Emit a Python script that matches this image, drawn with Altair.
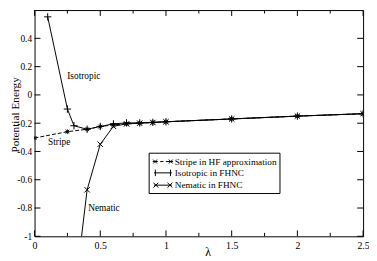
import altair as alt
import pandas as pd

# ---------------- data ----------------
lam_stripe = [0.0, 0.25, 0.4, 0.5, 0.6, 0.7, 0.8, 0.9, 1.0, 1.5, 2.0, 2.5]
E_stripe = [-0.305, -0.26, -0.243, -0.224, -0.212, -0.205, -0.2, -0.195, -0.19, -0.17, -0.15, -0.133]

lam_iso = [0.1, 0.25, 0.3, 0.4, 0.5, 0.6, 0.7, 0.8, 0.9, 1.0, 1.5, 2.0, 2.5]
E_iso = [0.552, -0.10, -0.218, -0.243, -0.223, -0.205, -0.198, -0.198, -0.194, -0.19, -0.17, -0.15, -0.133]

lam_nem = [0.3, 0.4, 0.5, 0.6, 0.7, 0.8, 0.9, 1.0, 1.5, 2.0, 2.5]
E_nem = [-1.45, -0.671, -0.349, -0.222, -0.205, -0.2, -0.195, -0.19, -0.17, -0.15, -0.133]

ann_text = ["Isotropic", "Stripe", "Nematic"]
ann_lam = [0.375, 0.187, 0.528]
ann_E = [0.135, -0.33, -0.80]

legend_labels = ["Stripe in HF approximation", "Isotropic in FHNC", "Nematic in FHNC"]

x_major = [0, 0.5, 1, 1.5, 2, 2.5]
x_minor = [0.25, 0.75, 1.25, 1.75, 2.25]
y_major = [-1, -0.8, -0.6, -0.4, -0.2, 0, 0.2, 0.4]

# ---------------- style ----------------
FONT = "Liberation Serif"
W, H = 334, 230
PL = 27  # left padding -> plot left edge at 35px on page

xs = alt.Scale(domain=[0, 2.5], nice=False, zero=False)
ys = alt.Scale(domain=[-1, 0.6], nice=False, zero=False)

STAR = "M-1,-1L1,1M-1,1L1,-1M-1.2,0H1.2M0,-1.2V1.2"
PLUS = "M-1,0H1M0,-1V1"
CROSS = "M-1,-1L1,1M-1,1L1,-1"


def fmt(v):
    return str(round(v, 3))


def star_at(cx, r):
    return (f"M{fmt(cx-r)},{fmt(-r)}L{fmt(cx+r)},{fmt(r)}"
            f"M{fmt(cx-r)},{fmt(r)}L{fmt(cx+r)},{fmt(-r)}"
            f"M{fmt(cx-r*1.2)},0H{fmt(cx+r*1.2)}")


def cross_at(cx, r):
    return (f"M{fmt(cx-r)},{fmt(-r)}L{fmt(cx+r)},{fmt(r)}"
            f"M{fmt(cx-r)},{fmt(r)}L{fmt(cx+r)},{fmt(-r)}")


# legend symbol: size 121 -> unit = 5.5px; paths span +-1.64 units (~18px)
leg_stripe = (star_at(-1.45, 0.36) + star_at(1.45, 0.36)
              + "M-1.45,0H-0.95M-0.5,0H0.1M0.55,0H1.45")
leg_iso = "M-1.64,0H1.64M-1.4,-0.6V0.6M1.4,-0.6V0.6"
leg_nem = "M-1.64,0H1.64" + cross_at(-1.3, 0.45) + cross_at(1.3, 0.45)
legend_paths = [leg_stripe, leg_iso, leg_nem]

df_s = pd.DataFrame({"lam": lam_stripe, "E": E_stripe})
df_i = pd.DataFrame({"lam": lam_iso, "E": E_iso})
df_n = pd.DataFrame({"lam": lam_nem, "E": E_nem})
df_ann = pd.DataFrame({"text": ann_text, "lam": ann_lam, "E": ann_E})
df_leg = pd.DataFrame({"name": legend_labels})
df_xmaj = pd.DataFrame({"lam": x_major})
df_xmin = pd.DataFrame({"lam": x_minor})
df_ymaj = pd.DataFrame({"E": y_major})

xaxis = alt.Axis(values=x_major, labelExpr="format(datum.value, '~g')",
                 ticks=False, tickSize=0, domain=False, grid=False,
                 labelFont=FONT, labelFontSize=10, labelColor="black",
                 labelBaseline="alphabetic", labelPadding=12, labelFlush=False,
                 title="λ", titleFont=FONT, titleFontSize=12, titleFontWeight="normal",
                 titleColor="black", titleX=176, titleY=20, titleBaseline="alphabetic",
                 titleAlign="center")
yaxis = alt.Axis(values=y_major,
                 labelExpr="(datum.value < 0 ? '-' : '') + format(abs(datum.value), '~g')",
                 ticks=False, tickSize=0, domain=False, grid=False,
                 labelFont=FONT, labelFontSize=9.5, labelColor="black",
                 labelPadding=3, labelFlush=False,
                 title="Potential Energy", titleFont=FONT, titleFontSize=11.5,
                 titleFontWeight="normal", titleColor="black",
                 titleAngle=270, titleBaseline="bottom", titleAlign="center",
                 titleX=-14, titleY=106)

X = alt.X("lam:Q", scale=xs, axis=xaxis)
Y = alt.Y("E:Q", scale=ys, axis=yaxis)

stripe_line = alt.Chart(df_s).mark_line(color="black", strokeWidth=1, strokeDash=[4, 2], clip=True).encode(
    x=X, y=Y)
stripe_pts = alt.Chart(df_s).mark_point(shape=STAR, size=14, filled=False, color="black",
                                        strokeWidth=1, opacity=1, clip=True).encode(x=X, y=Y)

iso_line = alt.Chart(df_i).mark_line(color="black", strokeWidth=1, clip=True).encode(x=X, y=Y)
iso_pts = alt.Chart(df_i).mark_point(shape=PLUS, size=56, filled=False, color="black",
                                     strokeWidth=1, opacity=1, clip=True).encode(x=X, y=Y)

nem_line = alt.Chart(df_n).mark_line(color="black", strokeWidth=1, clip=True).encode(x=X, y=Y)
nem_pts = alt.Chart(df_n).mark_point(shape=CROSS, size=30, filled=False, color="black",
                                     strokeWidth=1, opacity=1, clip=True).encode(x=X, y=Y)

ann = alt.Chart(df_ann).mark_text(font=FONT, fontSize=9.5, color="black").encode(
    x=X, y=Y, text="text:N")

legend_layer = alt.Chart(df_leg).transform_filter("false").mark_point(
    filled=False, size=121, color="black", strokeWidth=1, opacity=1).encode(
    shape=alt.Shape("name:N",
                    scale=alt.Scale(domain=legend_labels, range=legend_paths),
                    legend=alt.Legend(title=None, orient="none", legendX=116, legendY=145,
                                      strokeColor="black", fillColor="white", padding=3,
                                      symbolOffset=5.5, labelOffset=6, rowPadding=0.5,
                                      labelFont=FONT, labelFontSize=9.4, labelColor="black",
                                      symbolSize=121, symbolStrokeWidth=1,
                                      symbolStrokeColor="black",
                                      symbolFillColor="transparent", cornerRadius=0)))

TK_MAJ, TK_MIN = 6, 3.5
tx_b = alt.Chart(df_xmaj).mark_rule(color="black", strokeWidth=1).encode(
    x=X, y=alt.value(H), y2=alt.value(H - TK_MAJ))
tx_t = alt.Chart(df_xmaj).mark_rule(color="black", strokeWidth=1).encode(
    x=X, y=alt.value(0), y2=alt.value(TK_MAJ))
tm_b = alt.Chart(df_xmin).mark_rule(color="black", strokeWidth=1).encode(
    x=X, y=alt.value(H), y2=alt.value(H - TK_MIN))
tm_t = alt.Chart(df_xmin).mark_rule(color="black", strokeWidth=1).encode(
    x=X, y=alt.value(0), y2=alt.value(TK_MIN))
ty_l = alt.Chart(df_ymaj).mark_rule(color="black", strokeWidth=1).encode(
    y=Y, x=alt.value(0), x2=alt.value(TK_MAJ))
ty_r = alt.Chart(df_ymaj).mark_rule(color="black", strokeWidth=1).encode(
    y=Y, x=alt.value(W), x2=alt.value(W - TK_MAJ))

chart = alt.layer(
    stripe_line, iso_line, nem_line, stripe_pts, iso_pts, nem_pts, ann,
    tx_b, tx_t, tm_b, tm_t, ty_l, ty_r, legend_layer
).properties(
    width=W, height=H,
    autosize=alt.AutoSizeParams(type="none"),
    padding={"left": PL, "top": 0, "right": 6, "bottom": 23},
    background="white",
).configure_view(stroke="black", strokeWidth=1)

chart.save("out.html", embed_options={"renderer": "svg", "actions": False})
